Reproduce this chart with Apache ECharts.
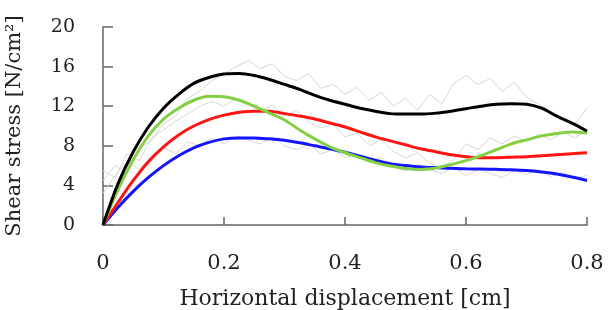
<!DOCTYPE html>
<html>
<head>
<meta charset="utf-8">
<script src="https://cdn.jsdelivr.net/npm/echarts@6/dist/echarts.min.js"></script>
<style>
  html, body { margin: 0; padding: 0; background: #fff; }
  #chart { width: 609px; height: 310px; }
</style>
</head>
<body>
<div id="chart"></div>
<script>
  // smooth fitted curves
  let xs = [0, 0.025, 0.05, 0.075, 0.1, 0.125, 0.15, 0.175, 0.2, 0.225, 0.25, 0.275, 0.3, 0.325, 0.35, 0.375, 0.4,
    0.425, 0.45, 0.475, 0.5, 0.525, 0.55, 0.575, 0.6, 0.625, 0.65, 0.675, 0.7, 0.725, 0.75, 0.775, 0.8]
  let blackData = [0, 4.2, 7.4, 9.9, 11.8, 13.2, 14.3, 14.9, 15.25, 15.3, 15.1, 14.7, 14.2, 13.7, 13.1, 12.6, 12.2,
    11.8, 11.5, 11.25, 11.2, 11.2, 11.3, 11.5, 11.75, 12.0, 12.2, 12.25, 12.2, 11.8, 11.0, 10.3, 9.5]
  let greenData = [0, 3.6, 6.6, 9.0, 10.7, 11.8, 12.6, 13.0, 12.95, 12.6, 12.0, 11.3, 10.6, 9.6, 8.7, 7.9, 7.3,
    6.8, 6.3, 5.95, 5.7, 5.6, 5.75, 6.1, 6.5, 7.0, 7.6, 8.2, 8.6, 9.0, 9.25, 9.4, 9.3]
  let redData = [0, 2.3, 4.5, 6.4, 7.9, 9.1, 10.0, 10.65, 11.1, 11.4, 11.5, 11.5, 11.25, 11.0, 10.7, 10.3, 9.9,
    9.4, 8.9, 8.5, 8.1, 7.7, 7.4, 7.1, 6.9, 6.8, 6.8, 6.85, 6.9, 7.0, 7.1, 7.2, 7.3]
  let blueData = [0, 1.8, 3.4, 4.8, 6.0, 7.0, 7.8, 8.35, 8.7, 8.8, 8.8, 8.7, 8.55, 8.3, 8.0, 7.7, 7.35,
    6.95, 6.55, 6.2, 6.0, 5.85, 5.8, 5.72, 5.68, 5.65, 5.62, 5.58, 5.5, 5.35, 5.15, 4.85, 4.5]

  // raw measurements (grey)
  let gx = [0, 0.02, 0.04, 0.06, 0.08, 0.1, 0.12, 0.14, 0.16, 0.18, 0.2, 0.22, 0.24, 0.26, 0.28, 0.3, 0.32, 0.34, 0.36, 0.38,
    0.4, 0.42, 0.44, 0.46, 0.48, 0.5, 0.52, 0.54, 0.56, 0.58, 0.6, 0.62, 0.64, 0.66, 0.68, 0.7, 0.72, 0.74, 0.76, 0.78, 0.8]
  let rawA = [4.5, 6.0, 5.2, 7.8, 8.5, 10.2, 11.0, 12.8, 13.5, 14.6, 15.2, 16.0, 16.6, 15.8, 16.3, 15.0, 14.6, 15.3, 13.8, 14.2,
    13.2, 13.9, 12.6, 13.4, 12.0, 12.8, 11.6, 13.2, 12.2, 14.3, 15.1, 14.2, 14.8, 13.5, 14.4, 12.9, 12.2, 11.5, 10.8, 10.2, 11.8]
  let rawB = [5.5, 4.8, 7.2, 6.5, 8.8, 9.6, 10.5, 11.2, 12.0, 12.5, 12.0, 12.8, 12.2, 11.5, 12.1, 11.0, 11.6, 10.4, 9.8, 10.2,
    8.9, 9.3, 8.0, 8.6, 7.4, 6.8, 7.3, 6.2, 5.8, 6.6, 8.2, 7.6, 8.8, 8.2, 9.0, 8.4, 9.2, 8.6, 9.4, 8.8, 9.6]
  let rawC = [3.2, 5.0, 6.4, 5.6, 7.0, 7.8, 7.2, 8.4, 8.0, 8.8, 8.2, 9.0, 8.6, 8.2, 8.9, 8.0, 7.6, 8.2, 7.2, 7.6,
    6.8, 7.2, 6.4, 6.8, 6.0, 5.4, 6.2, 5.6, 5.2, 5.8, 5.0, 5.6, 5.2, 4.8, 5.5, 5.1, 5.6, 4.9, 5.3, 4.7, 5.0]

  let yTicks = [0, 4, 8, 12, 16, 20]

  function pairs (x, y) {
    return y.map(function (v, i) { return [x[i], v] })
  }

  let font = 'DejaVu Serif'
  let axisColor = '#666'

  function rawSeries (data) {
    return {
      type: 'line', data: pairs(gx, data), smooth: false, symbol: 'none', silent: true,
      lineStyle: { color: '#d6d6d6', width: 1 }, z: 1
    }
  }
  function fitSeries (data, color, z) {
    return {
      type: 'line', data: pairs(xs, data), smooth: 0.3, symbol: 'none',
      lineStyle: { color: color, width: 3 }, z: z
    }
  }

  let myChart = echarts.init(document.getElementById('chart'))
  let option = {
    animation: false,
    grid: { left: 103, right: 22, top: 27, bottom: 85, outerBoundsMode: 'none' },
    xAxis: {
      type: 'value', min: 0, max: 0.8, interval: 0.2,
      name: 'Horizontal displacement [cm]',
      nameLocation: 'middle', nameGap: 63,
      nameTextStyle: { fontFamily: font, fontSize: 22, color: '#222' },
      axisLine: { lineStyle: { color: axisColor, width: 1.5 } },
      axisTick: { inside: true, length: 8, lineStyle: { color: axisColor, width: 1.5 } },
      splitLine: { show: false },
      axisLabel: { fontFamily: font, fontSize: 21, color: '#222', margin: 28 }
    },
    yAxis: {
      type: 'value', min: yTicks[0], max: yTicks[yTicks.length - 1], interval: 4,
      name: 'Shear stress [N/cm²]',
      nameLocation: 'middle', nameGap: 78, nameRotate: 90,
      nameTextStyle: { fontFamily: font, fontSize: 21, color: '#222' },
      axisLine: { show: true, lineStyle: { color: axisColor, width: 1.5 } },
      axisTick: { show: true, inside: true, length: 10, lineStyle: { color: axisColor, width: 1.5 } },
      splitLine: { show: false },
      axisLabel: { fontFamily: font, fontSize: 19, color: '#222', margin: 28 }
    },
    series: [
      rawSeries(rawA),
      rawSeries(rawB),
      rawSeries(rawC),
      fitSeries(blueData, '#1414ff', 3),
      fitSeries(redData, '#ff1414', 4),
      fitSeries(greenData, '#84d044', 5),
      fitSeries(blackData, '#000000', 6)
    ]
  }
  myChart.setOption(option)
</script>
</body>
</html>
